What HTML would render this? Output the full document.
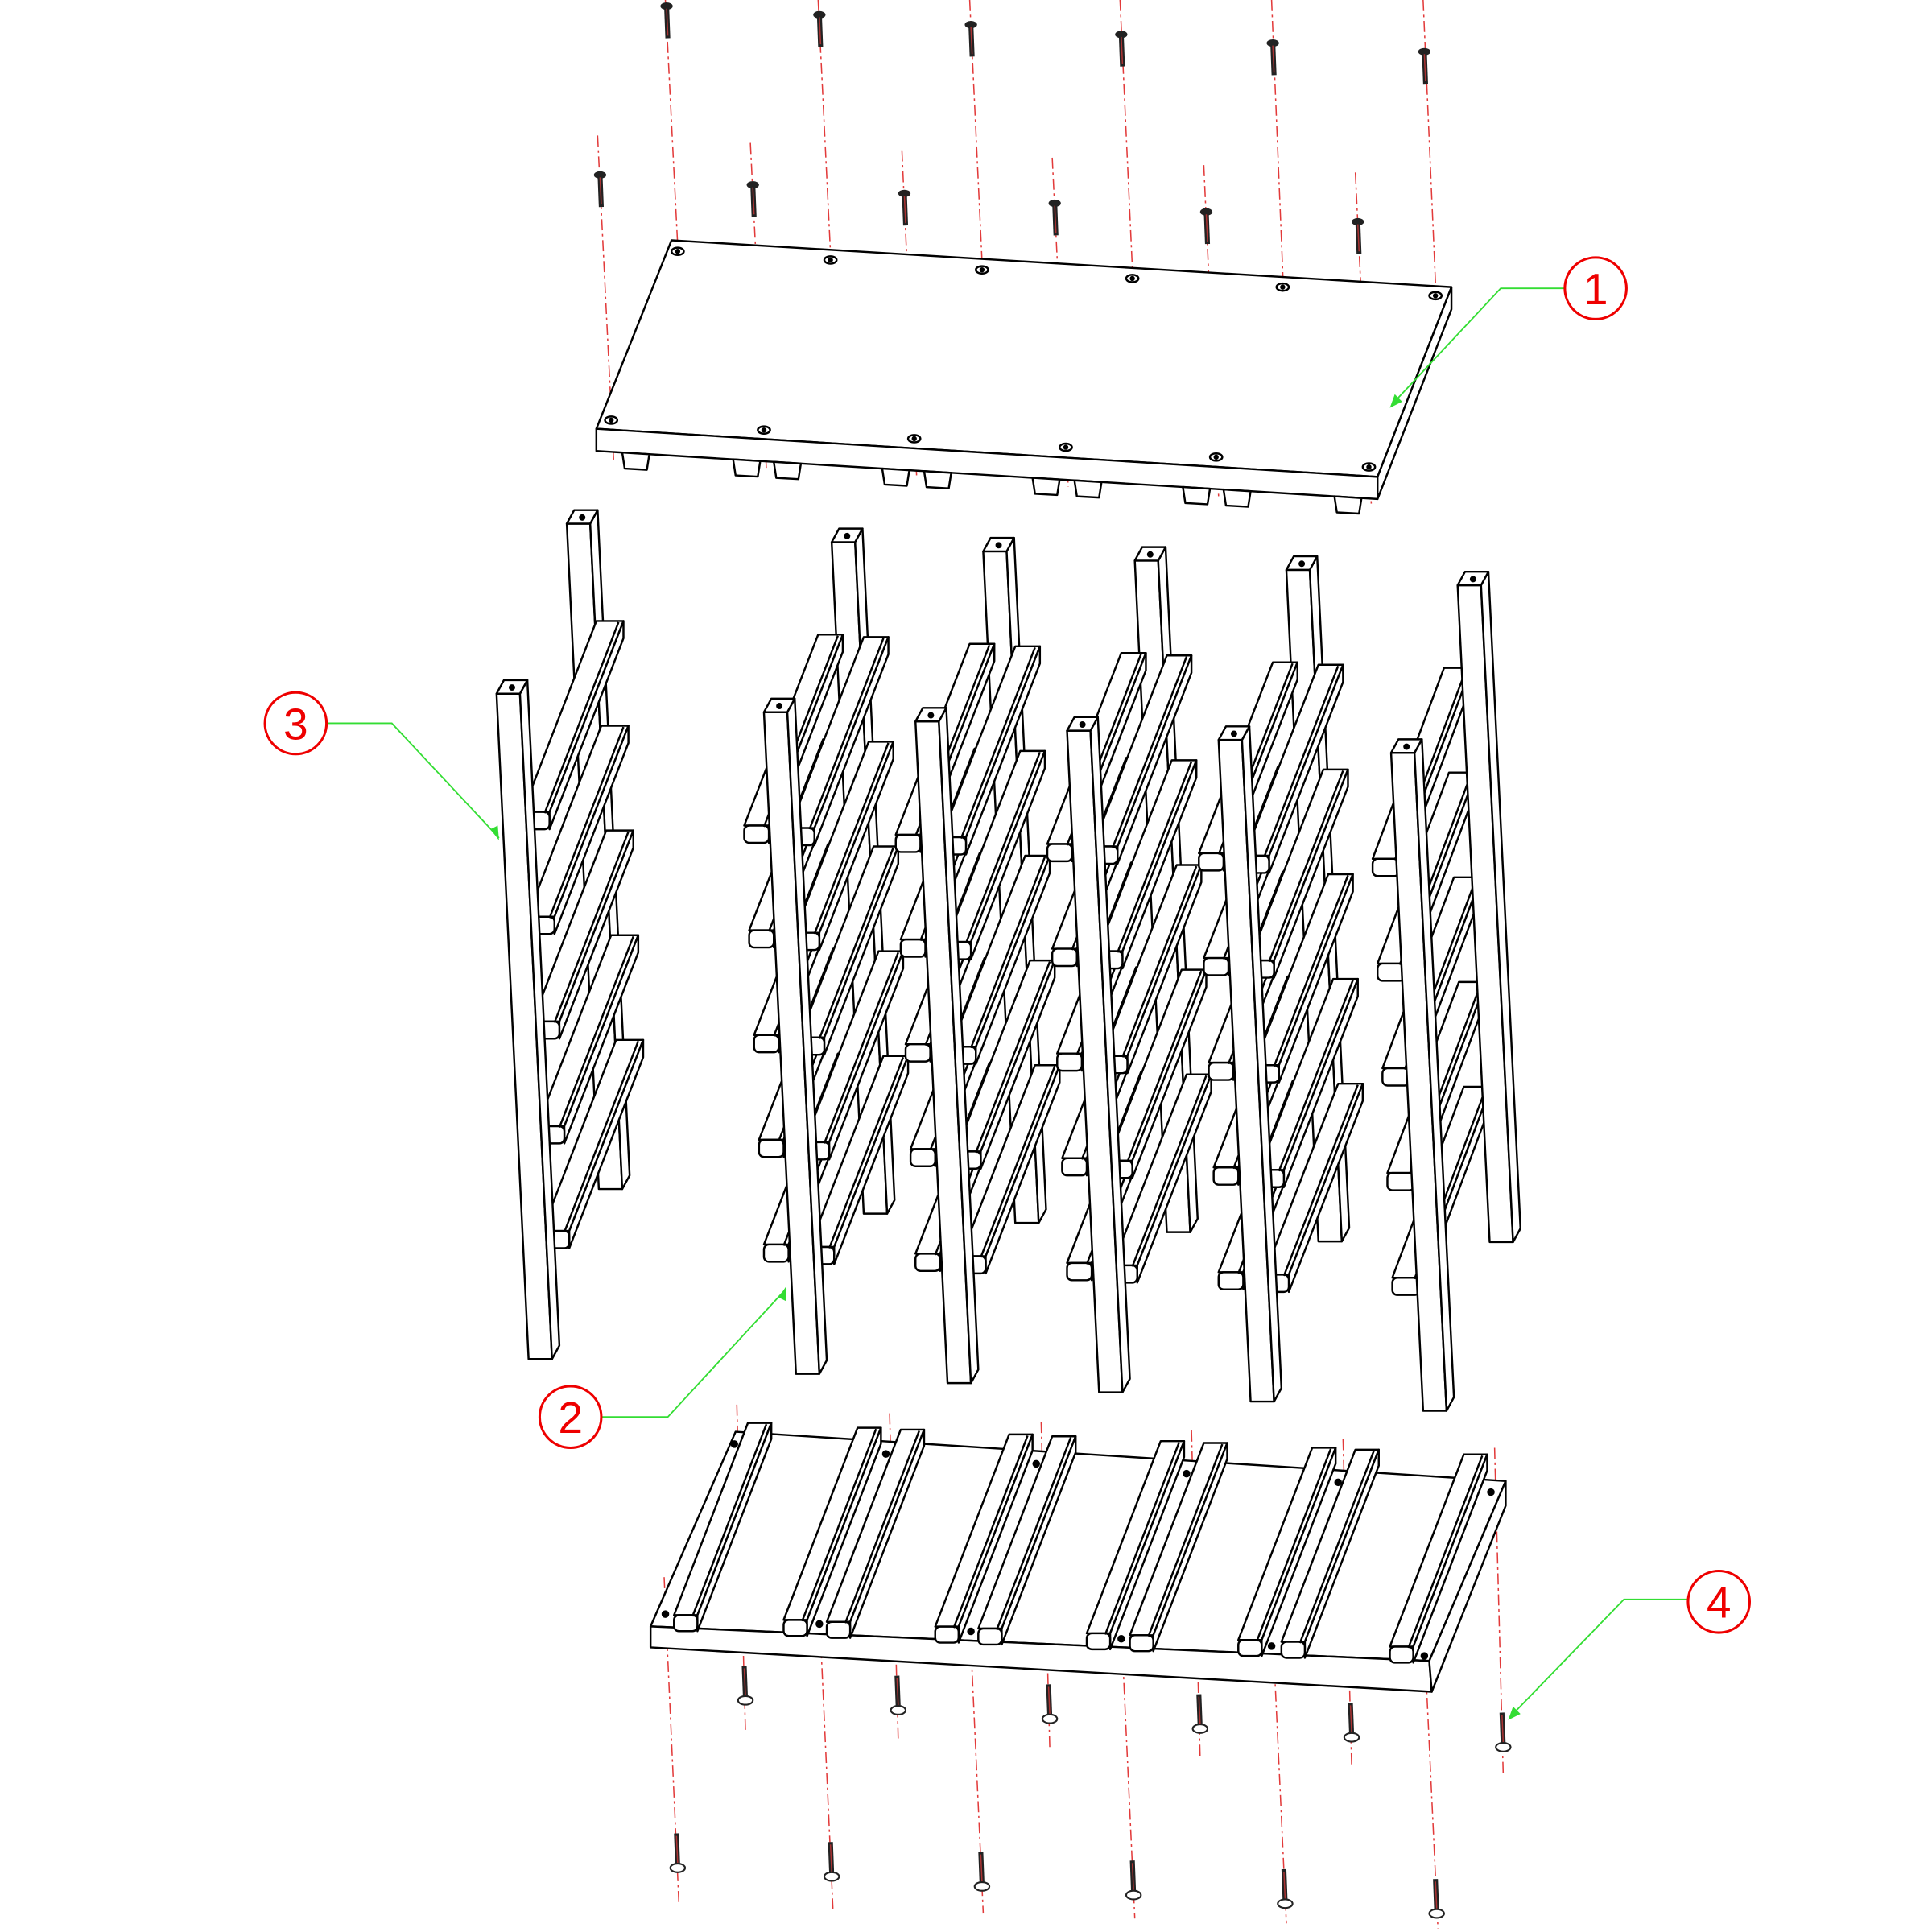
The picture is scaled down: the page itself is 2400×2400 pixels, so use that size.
<!DOCTYPE html>
<html><head><meta charset="utf-8"><style>html,body{margin:0;padding:0;background:#fff}svg{display:block}</style></head>
<body>
<svg id="s" xmlns="http://www.w3.org/2000/svg" width="2400" height="2400" viewBox="0 0 1568 1568">
<rect width="1568" height="1568" fill="#fff"/>
<g id="red" stroke="#e23a3a" stroke-width="1" stroke-dasharray="9 3 2 3" fill="none"></g>
<g id="g" stroke="#000" stroke-width="1.6" fill="#fff" stroke-linejoin="round"></g>
<g id="scr"></g>
<g fill="none" stroke="#33dd33" stroke-width="1.2">
<polyline points="1270,234 1218,234 1130,328"/>
<polyline points="265,587 318,587 405,680"/>
<polyline points="488,1150 542,1150 638,1046"/>
<polyline points="1370,1298 1318,1298 1226,1393"/>
</g>
<g fill="#33dd33"><polygon points="1128,331 1132,320 1138,326"/><polygon points="405,682 398,673 404,670"/><polygon points="638,1044 632,1053 638,1056"/><polygon points="1224,1396 1228,1385 1234,1391"/></g>
<g fill="none" stroke="#e00" stroke-width="2"><circle cx="1295" cy="234" r="25"/><circle cx="240" cy="587" r="25"/><circle cx="463" cy="1150" r="25"/><circle cx="1395" cy="1300" r="25"/></g>
<g fill="#e00" font-family="Liberation Sans, sans-serif" font-size="36" text-anchor="middle"><text x="1295" y="247">1</text><text x="240" y="600">3</text><text x="463" y="1163">2</text><text x="1395" y="1313">4</text></g>
</svg>
<script>
var NS="http://www.w3.org/2000/svg",G=document.getElementById('g'),R=document.getElementById('red'),S=document.getElementById('scr');
function el(p,t,a){var e=document.createElementNS(NS,t);for(var k in a)e.setAttribute(k,a[k]);p.appendChild(e);return e;}
function poly(pts){el(G,'polygon',{points:pts.map(function(p){return p.join(',')}).join(' ')});}
function line(p,x1,y1,x2,y2){el(p,'line',{x1:x1,y1:y1,x2:x2,y2:y2});}
// top board
poly([[545,195],[1178,233],[1118,387],[484,348]]);
poly([[484,348],[1118,387],[1118,405],[484,366]]);
poly([[1178,233],[1178,251],[1118,405],[1118,387]]);
[505,595,628,716,750,838,872,960,993,1083].forEach(function(x){var y=366+(x-484)*0.0615;poly([[x,y],[x+22,y+1.4],[x+20,y+14],[x+2,y+13]]);});
var bh=[[550,204],[674,211],[797,219],[919,226],[1041,233],[1165,240]],fh=[[496,341],[620,349],[742,356],[865,363],[987,371],[1111,379]];
bh.concat(fh).forEach(function(h){el(G,'ellipse',{cx:h[0],cy:h[1],rx:5,ry:3});el(G,'circle',{cx:h[0],cy:h[1],r:1.3,fill:'#000'});});
function screwDown(x,y){el(S,'ellipse',{cx:x,cy:y,rx:5,ry:3,fill:'#222'});el(S,'line',{x1:x,y1:y,x2:x+1,y2:y+26,stroke:'#222','stroke-width':4});el(S,'line',{x1:x,y1:y+2,x2:x+1,y2:y+24,stroke:'#a33','stroke-width':1});}
function screwUp(x,y){el(S,'line',{x1:x,y1:y,x2:x+1,y2:y+26,stroke:'#222','stroke-width':4});el(S,'line',{x1:x,y1:y+2,x2:x+1,y2:y+24,stroke:'#a33','stroke-width':1});el(S,'ellipse',{cx:x+1,cy:y+28,rx:6,ry:3.5,fill:'#fff',stroke:'#222','stroke-width':1.4});}
var bx=[541,665,788,910,1033,1156],by=[5,12,20,28,35,42];
bx.forEach(function(x,i){screwDown(x,by[i]);line(R,x-1,0,bh[i][0]+2,bh[i][1]+35);});
var fx=[487,611,734,856,979,1102],fy=[142,150,157,165,172,180];
fx.forEach(function(x,i){screwDown(x,fy[i]);line(R,x-2,110+i*6,fh[i][0]+2,fh[i][1]+32);});
// posts
function post(x,yt,yb,w,s){w=w||19;s=s||26;var d=6,u=11;
poly([[x,yt],[x+w,yt],[x+w+s,yb],[x+s,yb]]);
poly([[x+w,yt],[x+w+d,yt-u],[x+w+d+s,yb-u],[x+w+s,yb]]);
poly([[x,yt],[x+w,yt],[x+w+d,yt-u],[x+d,yt-u]]);
el(G,'circle',{cx:x+w/2+3,cy:yt-5,r:1.8,fill:'#000'});}
function rung(fx,fy,w,h,dx,dy){
poly([[fx,fy],[fx+w,fy],[fx+w+dx,fy+dy],[fx+dx,fy+dy]]);
poly([[fx+w,fy],[fx+w,fy+h],[fx+w+dx,fy+h+dy],[fx+w+dx,fy+dy]]);
el(G,'rect',{x:fx,y:fy,width:w,height:h,rx:4});
line(G,fx+w-4,fy+1,fx+w-4+dx,fy+1+dy);}
// left ladder
post(460,425,965);
for(var k=0;k<5;k++)rung(424+k*4,659+k*85,22,14,60,-155);
post(403,563,1103);
// middle ladders
for(var i=0;i<4;i++){var ox=i*123,oy=i*7.5;
post(675+ox,440+oy,985+oy);
for(var k=0;k<5;k++){rung(604+ox+k*4,670+oy+k*85,20,14,60,-155);}
for(var k=0;k<5;k++){rung(641+ox+k*4,672+oy+k*85,20,14,60,-155);}
post(620+ox,578+oy,1115+oy);}
// right ladder
for(var k=0;k<5;k++)rung(1114+k*4,697+k*85,22,14,58,-155);
post(1183,475,1008);
post(1129,611,1145);
// bottom board
poly([[597,1162],[1222,1202],[1160,1348],[528,1320]]);
poly([[528,1320],[1160,1348],[1162,1373],[528,1337]]);
poly([[1222,1202],[1222,1222],[1162,1373],[1160,1348]]);
[[540,1310],[596,1172],[719,1180],[841,1188],[963,1196],[1086,1203],[1210,1211],[665,1318],[788,1324],[910,1330],[1032,1336],[1156,1344]].forEach(function(h){el(G,'circle',{cx:h[0],cy:h[1],r:2.3,fill:'#000'});});
[547,636,671,759,794,882,917,1005,1040,1128].forEach(function(x){var y=1310+(x-528)*0.044;rung(x,y,19,13,60,-156);});
var ux=[604,728,851,973,1096,1219],uy=[1352,1360,1367,1375,1382,1390];
ux.forEach(function(x,i){screwUp(x,uy[i]);line(R,x-6,1140+i*7,x+1,1405+i*7);});
var lx=[549,674,796,919,1042,1165],ly=[1488,1495,1503,1510,1517,1525];
lx.forEach(function(x,i){screwUp(x,ly[i]);line(R,x-10,1280+i*6,x+2,1545+i*4);});
</script>
</body></html>
